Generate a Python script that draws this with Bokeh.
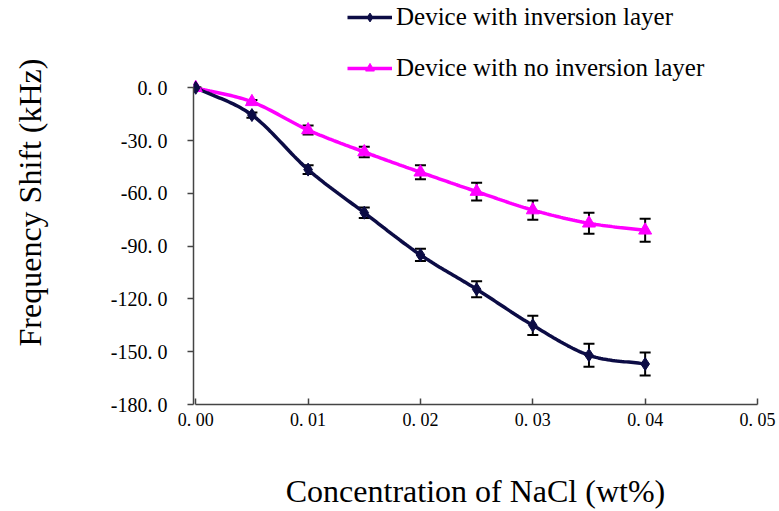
import numpy as np
from bokeh.plotting import figure
from bokeh.models import (ColumnDataSource, Whisker, TeeHead, FixedTicker, Legend, LegendItem, Range1d)
from bokeh.embed import file_html
from bokeh.resources import INLINE

# ---- data ----
conc = [0.0, 0.005, 0.01, 0.015, 0.02, 0.025, 0.03, 0.035, 0.04]
shift_inv = [0.0, -15.5, -46.5, -71.0, -95.0, -114.5, -135.0, -152.0, -157.0]
err_inv = [0.0, 1.5, 2.5, 3.0, 3.5, 4.5, 5.5, 6.5, 6.5]
shift_noinv = [0.0, -8.0, -24.0, -36.5, -48.0, -59.0, -69.5, -77.0, -81.0]
err_noinv = [0.0, 1.0, 2.5, 3.0, 4.0, 5.0, 5.5, 6.0, 6.5]

y_ticks = [0, -30, -60, -90, -120, -150, -180]
y_tick_labels = ["0. 0", "-30. 0", "-60. 0", "-90. 0", "-120. 0", "-150. 0", "-180. 0"]
x_ticks = [0.0, 0.01, 0.02, 0.03, 0.04, 0.05]
x_tick_labels = ["0. 00", "0. 01", "0. 02", "0. 03", "0. 04", "0. 05"]

label_inv = "Device with inversion layer"
label_noinv = "Device with no inversion layer"

NAVY = "#0c0c45"
MAGENTA = "#ff00ff"
SERIF = "Liberation Serif"


def smooth(xs, ys, n=24):
    """Catmull-Rom smoothing of the line through the data points (rendering only)."""
    xs = np.asarray(xs, float)
    ys = np.asarray(ys, float)
    px = np.concatenate([[2 * xs[0] - xs[1]], xs, [2 * xs[-1] - xs[-2]]])
    py = np.concatenate([[2 * ys[0] - ys[1]], ys, [2 * ys[-1] - ys[-2]]])
    ox, oy = [], []
    t = np.linspace(0, 1, n, endpoint=False)
    for i in range(1, len(px) - 2):
        for arr, out in ((px, ox), (py, oy)):
            p0, p1, p2, p3 = arr[i - 1], arr[i], arr[i + 1], arr[i + 2]
            out.extend(0.5 * ((2 * p1) + (-p0 + p2) * t
                              + (2 * p0 - 5 * p1 + 4 * p2 - p3) * t ** 2
                              + (-p0 + 3 * p1 - 3 * p2 + p3) * t ** 3))
    ox.append(xs[-1])
    oy.append(ys[-1])
    return ox, oy


p = figure(width=779, height=511, output_backend="svg", toolbar_location=None,
           x_range=Range1d(-0.0002, 0.05), y_range=Range1d(-180, 49.6),
           min_border_left=193, min_border_right=22, min_border_top=0, min_border_bottom=104)
p.outline_line_color = None
p.grid.grid_line_color = None
p.background_fill_color = "white"
p.border_fill_color = "white"

src_inv = ColumnDataSource(dict(x=conc, y=shift_inv,
                                lo=[a - b for a, b in zip(shift_inv, err_inv)],
                                hi=[a + b for a, b in zip(shift_inv, err_inv)]))
src_no = ColumnDataSource(dict(x=conc, y=shift_noinv,
                               lo=[a - b for a, b in zip(shift_noinv, err_noinv)],
                               hi=[a + b for a, b in zip(shift_noinv, err_noinv)]))

sx, sy = smooth(conc, shift_noinv)
l_no = p.line(sx, sy, line_color=MAGENTA, line_width=3.5)
sx, sy = smooth(conc, shift_inv)
l_inv = p.line(sx, sy, line_color=NAVY, line_width=3.5)

for src in (src_inv, src_no):
    w = Whisker(source=src, base="x", upper="hi", lower="lo", line_color="black", line_width=2,
                upper_head=TeeHead(size=11, line_color="black", line_width=2),
                lower_head=TeeHead(size=11, line_color="black", line_width=2))
    p.add_layout(w)

m_no = p.scatter("x", "y", source=src_no, marker="triangle", size=13,
                 fill_color=MAGENTA, line_color=MAGENTA)
m_inv = p.scatter("x", "y", source=src_inv, marker="diamond", size=13,
                  fill_color=NAVY, line_color=NAVY)

# legend line/marker renderers (not drawn in plot area)
leg_inv_line = p.line([0], [0], line_color=NAVY, line_width=3.5, visible=False)
leg_inv_m = p.scatter([0], [0], marker="diamond", size=10, fill_color=NAVY, line_color=NAVY, visible=False)
leg_no_line = p.line([0], [0], line_color=MAGENTA, line_width=3.5, visible=False)
leg_no_m = p.scatter([0], [0], marker="triangle", size=9, fill_color=MAGENTA, line_color=MAGENTA, visible=False)

legend = Legend(items=[LegendItem(label=label_inv, renderers=[leg_inv_line, leg_inv_m]),
                       LegendItem(label=label_noinv, renderers=[leg_no_line, leg_no_m])],
                location=(154, 322), padding=0, margin=0, spacing=23,
                glyph_width=45, glyph_height=22, label_height=22, label_standoff=4,
                label_text_font=SERIF, label_text_font_size="25px", label_text_color="black",
                border_line_color=None, background_fill_alpha=0)
p.add_layout(legend)

# axes
xa = p.xaxis[0]
xa.ticker = FixedTicker(ticks=x_ticks)
xa.major_label_overrides = {t: s for t, s in zip(x_ticks, x_tick_labels)}
xa.bounds = (0.0, 0.05)
xa.minor_tick_line_color = None
xa.major_tick_in = 6
xa.major_tick_out = 0
xa.axis_line_color = "#444444"
xa.axis_line_width = 1.5
xa.major_tick_line_color = "#444444"
xa.major_tick_line_width = 1.5
xa.major_label_text_font = SERIF
xa.major_label_text_font_size = "18px"
xa.major_label_text_color = "black"
xa.major_label_standoff = 5
xa.axis_label = "Concentration of NaCl (wt%)"
xa.axis_label_text_font = SERIF
xa.axis_label_text_font_size = "32px"
xa.axis_label_text_font_style = "normal"
xa.axis_label_text_color = "black"
xa.axis_label_standoff = 40

ya = p.yaxis[0]
ya.ticker = FixedTicker(ticks=y_ticks)
ya.major_label_overrides = {t: s for t, s in zip(y_ticks, y_tick_labels)}
ya.bounds = (-180, 0)
ya.minor_tick_line_color = None
ya.major_tick_in = 0
ya.major_tick_out = 6
ya.axis_line_color = "#444444"
ya.axis_line_width = 1.5
ya.major_tick_line_color = "#444444"
ya.major_tick_line_width = 1.5
ya.major_label_text_font = SERIF
ya.major_label_text_font_size = "20px"
ya.major_label_text_color = "black"
ya.major_label_standoff = 20
ya.axis_label = "Frequency Shift (kHz)"
ya.axis_label_text_font = SERIF
ya.axis_label_text_font_size = "32px"
ya.axis_label_text_font_style = "normal"
ya.axis_label_text_color = "black"
ya.axis_label_standoff = 60

open("out.html", "w").write(file_html(p, INLINE))
